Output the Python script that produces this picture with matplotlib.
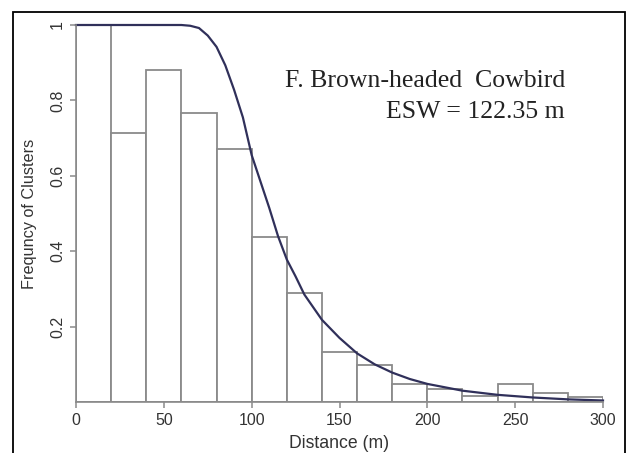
#!/usr/bin/env python3
"""
Detection function plot: histogram of cluster distances with fitted curve.
"""

import matplotlib
matplotlib.use("Agg")
import matplotlib.pyplot as plt
from matplotlib.patches import Rectangle

# Histogram bins (20 m wide) and scaled frequency of clusters
bin_left = [0, 20, 40, 60, 80, 100, 120, 140, 160, 180, 200, 220, 240, 260, 280]
bin_width = 20
frequency = [1.0, 0.714, 0.881, 0.766, 0.670, 0.438, 0.290, 0.132, 0.099,
             0.047, 0.034, 0.015, 0.047, 0.024, 0.013]

# Fitted detection curve
curve_dist = [0, 20, 40, 60, 65, 70, 75, 80, 85, 90, 95, 100, 105, 110, 115,
              120, 125, 130, 140, 150, 160, 170, 180, 190, 200, 220, 240, 260,
              280, 300]
curve_prob = [1.0, 1.0, 1.0, 1.0, 0.998, 0.992, 0.972, 0.942, 0.893, 0.828,
              0.755, 0.655, 0.585, 0.515, 0.440, 0.378, 0.333, 0.285, 0.218,
              0.170, 0.129, 0.100, 0.078, 0.061, 0.048, 0.030, 0.019, 0.012,
              0.007, 0.004]

x_ticks = [0, 50, 100, 150, 200, 250, 300]
y_ticks = [0.2, 0.4, 0.6, 0.8, 1.0]
y_tick_labels = ["0.2", "0.4", "0.6", "0.8", "1"]

species = "F. Brown-headed  Cowbird"
esw_text = "ESW = 122.35 m"

gray = "#8a8a8a"
fig = plt.figure(figsize=(6.28, 4.53), dpi=100)
ax = fig.add_axes([76 / 628, 51 / 453, 527 / 628, 377 / 453])

ax.bar(bin_left, frequency, width=bin_width, align="edge",
       facecolor="white", edgecolor=gray, linewidth=1.3)
ax.plot(curve_dist, curve_prob, color="#30305a", linewidth=1.6, clip_on=False)

ax.set_xlim(0, 300)
ax.set_ylim(0, 1)

# R-like axes: only left and bottom lines
for side in ["top", "right"]:
    ax.spines[side].set_visible(False)
for side in ["left", "bottom"]:
    ax.spines[side].set_color(gray)
    ax.spines[side].set_linewidth(1.2)

ax.set_xticks(x_ticks)
ax.set_xticklabels([str(t) for t in x_ticks], fontsize=11.5, color="#333333",
                   family="Liberation Sans")
ax.set_yticks(y_ticks)
ax.set_yticklabels(y_tick_labels, fontsize=11.5, color="#333333",
                   family="Liberation Sans", rotation=90, va="center")
ax.tick_params(axis="both", length=4, width=1.1, color=gray, pad=4)

ax.set_xlabel("Distance (m)", fontsize=12.7, color="#333333",
              family="Liberation Sans", labelpad=5)
ax.set_ylabel("Frequncy of Clusters", fontsize=11.7, color="#333333",
              family="Liberation Sans", labelpad=9)

ax.text(0.928, 0.836, species, transform=ax.transAxes, ha="right",
        va="baseline", fontsize=18.5, family="Liberation Serif", color="#222222")
ax.text(0.928, 0.753, esw_text, transform=ax.transAxes, ha="right",
        va="baseline", fontsize=18.5, family="Liberation Serif", color="#222222")

# Outer frame around the whole figure
fig.patches.append(Rectangle((13 / 628, -0.02), 612 / 628, 1.02 - 12 / 453,
                             transform=fig.transFigure, fill=False,
                             edgecolor="black", linewidth=1.3))

fig.savefig("out.png", dpi=100)
